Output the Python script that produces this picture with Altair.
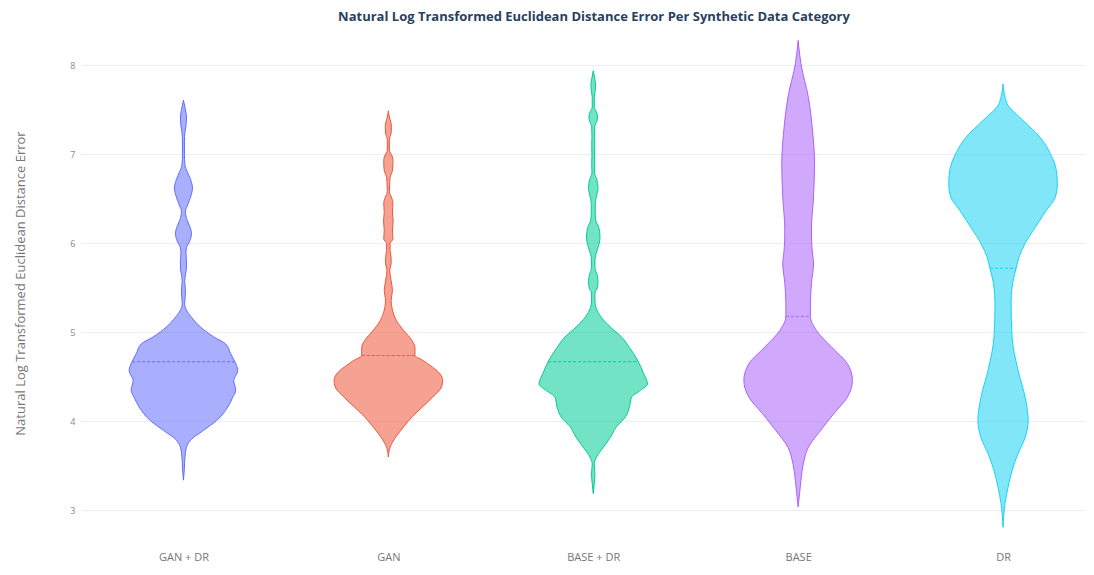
import altair as alt
import numpy as np
import pandas as pd

categories = ["GAN + DR", "GAN", "BASE + DR", "BASE", "DR"]
colors = ["#636efa", "#EF553B", "#00cc96", "#ab63fa", "#19d3f3"]
means = [4.67, 4.74, 4.67, 5.18, 5.72]

gan_dr_values = [3.34, 3.45, 3.55, 3.65, 3.71, 3.79, 3.90, 4.01, 4.16, 4.27, 4.35, 4.46, 4.57, 4.65,
                 4.76, 4.87, 4.95, 5.06, 5.17, 5.25, 5.32, 5.38, 5.44, 5.50, 5.58, 5.65, 5.72, 5.80,
                 5.89, 5.95, 6.02, 6.11, 6.20, 6.28, 6.36, 6.44, 6.52, 6.62, 6.72, 6.80, 6.88, 7.00,
                 7.15, 7.25, 7.32, 7.42, 7.50, 7.61]
gan_dr_density = [0, 0.8, 1.2, 2, 3, 7, 20, 33, 44, 49, 52, 50, 54, 52,
                  47, 42, 30, 17, 8, 3, 1.2, 1.5, 2, 1.8, 1.3, 2, 3, 3,
                  2.5, 3, 6, 8, 6, 3, 2, 4.5, 7, 9, 7, 4, 1.5, 1,
                  1, 1.5, 2.5, 3, 2, 0]

gan_values = [3.60, 3.71, 3.82, 3.94, 4.05, 4.16, 4.27, 4.39, 4.46, 4.54, 4.61, 4.69, 4.74, 4.83,
              4.91, 5.02, 5.13, 5.25, 5.36, 5.47, 5.58, 5.70, 5.77, 5.84, 5.92, 6.00, 6.05, 6.15,
              6.25, 6.35, 6.45, 6.52, 6.58, 6.65, 6.74, 6.82, 6.92, 6.97, 7.05, 7.16, 7.24, 7.30,
              7.36, 7.42, 7.49]
gan_density = [0, 1.7, 7, 15, 23, 33, 43, 52, 53, 50, 43, 33, 26, 26,
               23, 15, 8, 4, 2.7, 4, 2.7, 1.3, 2.7, 2.7, 1.7, 1.7, 4.5, 4,
               4.7, 4, 4.5, 3, 1, 1.2, 1.7, 4, 4.5, 4, 1, 1, 2.7, 3,
               2.5, 1, 0]

base_dr_values = [3.19, 3.30, 3.41, 3.52, 3.60, 3.71, 3.82, 3.94, 4.05, 4.16, 4.27, 4.35, 4.42, 4.54,
                  4.69, 4.83, 4.95, 5.06, 5.17, 5.28, 5.35, 5.44, 5.50, 5.57, 5.64, 5.73, 5.81, 5.88,
                  5.96, 6.07, 6.18, 6.26, 6.33, 6.45, 6.52, 6.62, 6.72, 6.79, 6.90, 7.00, 7.10, 7.20,
                  7.31, 7.37, 7.42, 7.48, 7.53, 7.64, 7.72, 7.78, 7.85, 7.94]
base_dr_density = [0, 1, 1.7, 1, 3.3, 10, 17, 23, 32, 36, 38, 47, 54, 50,
                   44, 36, 28, 17, 8, 2.7, 1.7, 1.7, 4, 4.7, 4, 1.7, 1.7, 2.7,
                   5, 6.7, 5.5, 2.5, 2, 2, 3, 4.7, 3.5, 1.3, 1.5, 1.3, 1.5, 1.3,
                   1.5, 3.5, 4.3, 3, 1, 1, 2, 2.3, 1.5, 0]

base_values = [3.04, 3.20, 3.34, 3.52, 3.71, 3.90, 4.09, 4.27, 4.46, 4.65, 4.83, 5.02, 5.18, 5.32,
               5.55, 5.77, 5.95, 6.15, 6.52, 6.90, 7.27, 7.64, 8.02, 8.28]
base_density = [0, 1.5, 2.7, 5, 10, 22, 35, 48, 53, 48, 33, 18, 12, 12,
                13, 15, 13.5, 13, 15, 16, 14, 10, 2.7, 0]

dr_values = [2.81, 3.08, 3.26, 3.45, 3.64, 3.82, 4.01, 4.27, 4.57, 4.95, 5.32, 5.51, 5.72, 5.85,
             6.00, 6.18, 6.37, 6.52, 6.67, 6.82, 7.01, 7.19, 7.38, 7.57, 7.79]
dr_density = [0, 2, 5, 9, 15, 22, 25, 22, 15, 9, 8, 9, 13, 16,
              22, 32, 43, 52, 54, 53, 47, 37, 20, 4, 0]

y_ticks = [3, 4, 5, 6, 7, 8]

profiles = [
    (gan_dr_values, gan_dr_density),
    (gan_values, gan_density),
    (base_dr_values, base_dr_density),
    (base_values, base_density),
    (dr_values, dr_density),
]

HALF = 0.265  # max half-width of each violin, in category units
rows, mean_rows = [], []
for i, (cat, (vals, dens), m) in enumerate(zip(categories, profiles, means)):
    d = np.array(dens, dtype=float)
    d = d / d.max() * HALF
    for v, w in zip(vals, d):
        rows.append({"cat": cat, "value": v, "lo": i - w, "hi": i + w})
    mw = float(np.interp(m, vals, d))
    mean_rows.append({"cat": cat, "value": m, "lo": i - mw, "hi": i + mw})

df = pd.DataFrame(rows)
mdf = pd.DataFrame(mean_rows)

FONT = "Open Sans"
color_scale = alt.Scale(domain=categories, range=colors)
xscale = alt.Scale(domain=[-0.5, 4.4], nice=False, zero=False)
yscale = alt.Scale(domain=[2.78, 8.33], nice=False, zero=False)
label_expr = "[" + ",".join(f"'{c}'" for c in categories) + "][datum.value]"

y_axis = alt.Axis(title="Natural Log Transformed Euclidean Distance Error",
                  values=y_ticks, format="d", grid=True, gridColor="#eeeeee",
                  domain=False, ticks=False, labelPadding=6, labelFontSize=9,
                  labelColor="#888888", labelFont=FONT, titleFont=FONT,
                  titleFontSize=13, titleFontWeight="normal", titleColor="#777777",
                  titlePadding=42)
x_axis = alt.Axis(title=None, values=[0, 1, 2, 3, 4], labelExpr=label_expr,
                  grid=False, ticks=False, domain=False, labelPadding=21,
                  labelFontSize=11, labelColor="#777777", labelFont=FONT)

violins = alt.Chart(df).mark_area(
    orient="horizontal", interpolate="monotone", fillOpacity=0.55, strokeWidth=1
).encode(
    y=alt.Y("value:Q", scale=yscale, axis=y_axis),
    x=alt.X("lo:Q", scale=xscale, stack=None, axis=x_axis),
    x2="hi:Q",
    fill=alt.Fill("cat:N", scale=color_scale, legend=None),
    stroke=alt.Stroke("cat:N", scale=color_scale, legend=None),
    detail="cat:N",
)

mean_lines = alt.Chart(mdf).mark_rule(strokeDash=[3, 2], strokeWidth=1).encode(
    y=alt.Y("value:Q", scale=yscale, axis=y_axis),
    x=alt.X("lo:Q", scale=xscale, axis=x_axis),
    x2="hi:Q",
    stroke=alt.Stroke("cat:N", scale=color_scale, legend=None),
)

chart = alt.layer(violins, mean_lines).properties(
    width=1004,
    height=494,
    padding={"left": 6, "top": 3, "right": 0, "bottom": 0},
    title=alt.TitleParams(
        "Natural Log Transformed Euclidean Distance Error Per Synthetic Data Category",
        fontSize=13, fontWeight="bold", color="#2a3f5f", font=FONT,
        anchor="middle", offset=12, dx=11),
).configure(background="white").configure_view(stroke=None)

chart.save("out.html", embed_options={"renderer": "svg", "actions": False})
